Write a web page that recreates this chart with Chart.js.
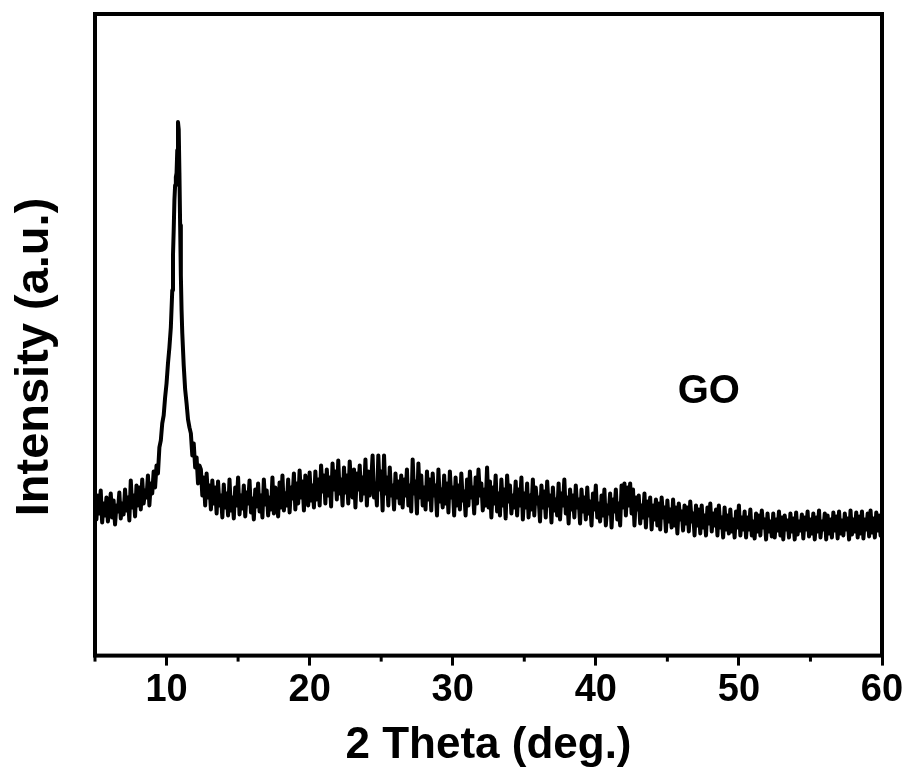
<!DOCTYPE html>
<html>
<head>
<meta charset="utf-8">
<script src="https://cdn.jsdelivr.net/npm/chart.js@4/dist/chart.umd.min.js"></script>
<style>
  html, body { margin: 0; padding: 0; background: #fff; }
  #wrap { width: 907px; height: 773px; position: relative; }
</style>
</head>
<body>
<div id="wrap"><canvas id="xrd"></canvas></div>
<script>
// XRD pattern of GO, intensity in arbitrary units

// background before the (001) peak: 5.0 .. 9.2 deg, every 0.1
var leftStart = 5.0;
var leftStep = 0.1;
var leftCounts = [
  150, 136, 160, 142, 165, 133, 152, 140, 158, 134,
  146, 162, 138, 155, 131, 150, 144, 163, 137, 152,
  141, 166, 145, 158, 135, 175, 148, 160, 139, 170,
  150, 168, 146, 176, 152, 165, 158, 180, 150, 172,
  162, 184, 168
];

// the sharp peak near 10.8 deg, read point by point
var peakAngles = [9.3, 9.4, 9.5, 9.6, 9.7, 9.8, 9.9, 10.0, 10.1, 10.2,
                  10.3, 10.4, 10.45, 10.5, 10.55, 10.6, 10.65, 10.7, 10.75, 10.8,
                  10.85, 10.9, 10.95, 11.0, 11.05, 11.1, 11.2, 11.3, 11.4, 11.5,
                  11.6, 11.7, 11.8, 11.9, 12.0, 12.1, 12.2, 12.3];
var peakCounts = [190, 182, 208, 215, 232, 240, 258, 272, 292, 308,
                  328, 365, 400, 425, 455, 470, 478, 482, 505, 533,
                  526, 482, 430, 380, 345, 322, 290, 266, 252, 236,
                  228, 222, 200, 212, 188, 198, 172, 190];

// broad hump and tail: 12.4 .. 60.0 deg, every 0.1
var rightStart = 12.4;
var rightStep = 0.1;
var rightCounts = [
  186, 160, 178, 150, 182, 158, 170, 146, 175, 152,
  168, 142, 174, 150, 160, 138, 171, 148, 162, 140,
  176, 145, 158, 137, 168, 150, 178, 141, 160, 147,
  170, 139, 163, 152, 175, 143, 157, 136, 166, 149,
  172, 144, 160, 138, 176, 151, 165, 140, 158, 146,
  178, 142, 168, 155, 139, 173, 148, 180, 145, 162,
  150, 176, 143, 168, 157, 182, 146, 172, 152, 185,
  158, 174, 145, 180, 162, 150, 183, 155, 170, 148,
  184, 156, 176, 150, 190, 164, 180, 152, 186, 160,
  178, 149, 192, 166, 184, 156, 195, 162, 176, 150,
  188, 163, 180, 152, 194, 170, 158, 186, 148, 182,
  166, 190, 155, 178, 162, 196, 150, 184, 160, 174,
  200, 158, 172, 150, 200, 166, 184, 145, 200, 162,
  178, 150, 188, 160, 170, 146, 182, 158, 174, 152,
  180, 148, 176, 160, 186, 150, 170, 144, 196, 162,
  174, 142, 192, 158, 180, 150, 168, 146, 184, 156,
  176, 145, 182, 160, 170, 140, 186, 154, 166, 148,
  180, 152, 172, 143, 184, 158, 168, 140, 178, 150,
  170, 146, 182, 155, 164, 140, 176, 150, 184, 158,
  168, 142, 178, 152, 186, 160, 172, 145, 166, 150,
  188, 148, 174, 138, 168, 152, 180, 144, 162, 140,
  176, 150, 166, 137, 180, 154, 170, 142, 160, 148,
  174, 140, 166, 150, 178, 136, 162, 148, 172, 138,
  160, 146, 176, 140, 168, 152, 158, 134, 170, 148,
  164, 138, 174, 150, 160, 133, 168, 145, 156, 140,
  172, 136, 162, 150, 176, 142, 158, 132, 166, 146,
  160, 138, 170, 148, 156, 132, 166, 144, 158, 136,
  168, 142, 154, 130, 162, 146, 170, 138, 152, 134,
  160, 140, 166, 130, 150, 142, 162, 128, 156, 144,
  166, 136, 152, 130, 170, 148, 172, 140, 168, 150,
  172, 142, 166, 130, 158, 146, 160, 132, 150, 138,
  162, 128, 154, 140, 158, 126, 150, 136, 156, 130,
  152, 126, 158, 138, 148, 124, 155, 134, 146, 128,
  156, 130, 148, 122, 152, 136, 144, 125, 150, 132,
  148, 124, 154, 134, 142, 120, 150, 130, 146, 122,
  150, 128, 140, 120, 148, 132, 152, 124, 142, 130,
  146, 120, 150, 128, 138, 118, 148, 126, 140, 122,
  146, 124, 136, 118, 144, 128, 150, 120, 138, 126,
  144, 118, 138, 126, 146, 120, 134, 117, 142, 124,
  140, 120, 145, 128, 136, 116, 142, 124, 134, 119,
  142, 118, 136, 125, 144, 120, 138, 116, 140, 126,
  135, 118, 142, 124, 137, 116, 143, 121, 134, 125,
  141, 117, 138, 126, 144, 119, 136, 122, 142, 116,
  138, 124, 145, 118, 134, 126, 142, 116, 140, 122,
  136, 118, 143, 125, 139, 117, 144, 122, 135, 120,
  142, 126, 137, 116, 145, 121, 136, 124, 143, 118,
  139, 122, 144, 117, 136, 126, 142, 119, 145, 123,
  137, 118, 143, 125, 140, 120, 136
];

var majorTicks = [10, 20, 30, 40, 50, 60];
var minorTicks = [5, 15, 25, 35, 45, 55];
var sampleLabel = "GO";
var yTitle = "Intensity (a.u.)";

var points = [];
leftCounts.forEach(function (c, i) {
  points.push({ x: +(leftStart + i * leftStep).toFixed(2), y: c });
});
peakAngles.forEach(function (a, i) {
  points.push({ x: a, y: peakCounts[i] });
});
rightCounts.forEach(function (c, i) {
  points.push({ x: +(rightStart + i * rightStep).toFixed(2), y: c });
});

var FONT = "'Liberation Sans', Arial, sans-serif";
var NARROW = "'Liberation Sans Narrow', 'Arial Narrow', 'Liberation Sans', sans-serif";

// frame, short minor ticks, y title and the sample name
var framePlugin = {
  id: "frame",
  afterDraw: function (chart) {
    var ctx = chart.ctx;
    var a = chart.chartArea;
    var xs = chart.scales.x;
    var ys = chart.scales.y;
    ctx.save();
    ctx.strokeStyle = "#000";
    ctx.lineWidth = 4;
    ctx.strokeRect(a.left, a.top, a.right - a.left, a.bottom - a.top);
    ctx.lineWidth = 3;
    minorTicks.forEach(function (v) {
      var px = xs.getPixelForValue(v);
      ctx.beginPath();
      ctx.moveTo(px, a.bottom);
      ctx.lineTo(px, a.bottom + 6);
      ctx.stroke();
    });
    ctx.fillStyle = "#000";
    ctx.textAlign = "center";
    ctx.textBaseline = "middle";
    ctx.font = "bold 40px " + FONT;
    ctx.fillText(sampleLabel, xs.getPixelForValue(47.9), ys.getPixelForValue(263));

    ctx.translate(35, 357);
    ctx.rotate(-Math.PI / 2);
    ctx.font = "bold 47px " + FONT;
    ctx.fillText(yTitle, 0, 0);
    ctx.restore();
  }
};

new Chart(document.getElementById("xrd"), {
  type: "line",
  data: {
    datasets: [{
      label: sampleLabel,
      data: points,
      borderColor: "#000",
      borderWidth: 4,
      borderJoinStyle: "round",
      borderCapStyle: "round",
      pointRadius: 0,
      tension: 0,
      fill: false
    }]
  },
  options: {
    responsive: true,
    maintainAspectRatio: false,
    animation: false,
    layout: { padding: { left: 95, right: 25, top: 14, bottom: 1 } },
    plugins: {
      legend: { display: false },
      tooltip: { enabled: false }
    },
    scales: {
      x: {
        type: "linear",
        min: 5,
        max: 60,
        afterBuildTicks: function (scale) {
          scale.ticks = majorTicks.map(function (v) { return { value: v }; });
        },
        border: { display: false },
        grid: {
          display: true,
          drawOnChartArea: false,
          tickLength: 10,
          tickWidth: 3,
          tickColor: "#000"
        },
        ticks: {
          color: "#000",
          padding: 2,
          autoSkip: false,
          maxRotation: 0,
          font: { family: NARROW, size: 38, weight: "bold" }
        },
        title: {
          display: true,
          text: "2 Theta (deg.)",
          color: "#000",
          padding: { top: 4, bottom: 0 },
          font: { family: FONT, size: 44, weight: "bold" }
        }
      },
      y: {
        display: false,
        min: 0,
        max: 641
      }
    }
  },
  plugins: [framePlugin]
});
</script>
</body>
</html>
